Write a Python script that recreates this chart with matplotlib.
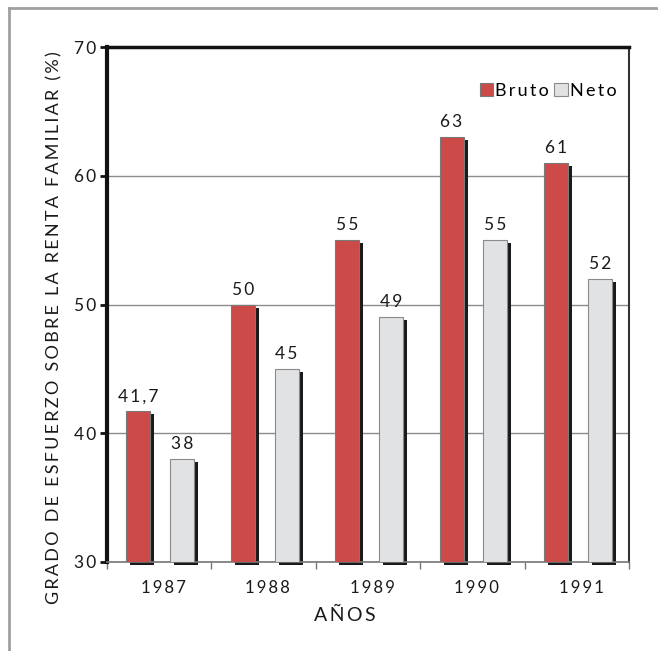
import matplotlib
matplotlib.use("Agg")
import matplotlib.pyplot as plt
import matplotlib.transforms as mtransforms
from matplotlib.lines import Line2D
import numpy as np

years = ["1987", "1988", "1989", "1990", "1991"]
bruto = [41.7, 50, 55, 63, 61]
neto = [38, 45, 49, 55, 52]
bruto_labels = ["41,7", "50", "55", "63", "61"]
neto_labels = ["38", "45", "49", "55", "52"]
y_ticks = [30, 40, 50, 60, 70]

plt.rcParams["font.family"] = ["Lato", "DejaVu Sans"]

RED = "#cc4a47"
GREY = "#e1e2e4"
SHADOW = "#1a1a1c"
INK = "#1a1a1a"


def spaced(s):
    """Open up the tracking of a string with thin spaces."""
    return "\u2009".join(s)


fig = plt.figure(figsize=(6.58, 6.51), dpi=100)
W, H = 658, 651
ax = fig.add_axes([107 / W, 1 - 562 / H, (629 - 107) / W, (562 - 47) / H])

x = np.arange(len(years))
w = 0.23
xb = x + 0.30
xn = x + 0.72

# drop shadows: same bars shifted a few pixels right and down
shadow_tr = mtransforms.offset_copy(ax.transData, fig=fig, x=4, y=-3, units="dots")
for xs, vals in ((xb, bruto), (xn, neto)):
    ax.bar(xs, np.array(vals) - 30, width=w, bottom=30, color=SHADOW,
           edgecolor="none", transform=shadow_tr, clip_on=False, zorder=2)

ax.bar(xb, np.array(bruto) - 30, width=w, bottom=30, color=RED,
       edgecolor="#7a7a7a", linewidth=0.8, zorder=3, label=spaced("Bruto"))
ax.bar(xn, np.array(neto) - 30, width=w, bottom=30, color=GREY,
       edgecolor="#8a8a8a", linewidth=0.8, zorder=3, label=spaced("Neto"))

for xs, vals, labs in ((xb, bruto, bruto_labels), (xn, neto, neto_labels)):
    for xi, v, lab in zip(xs, vals, labs):
        ax.annotate(spaced(lab), (xi, v), xytext=(0, 5), textcoords="offset points",
                    ha="center", va="bottom", fontsize=12.5, color=INK)

ax.set_xlim(0, len(years))
ax.set_ylim(30, 70)
ax.set_yticks(y_ticks)
ax.set_yticklabels([spaced(str(t)) for t in y_ticks], fontsize=12.5)
ax.yaxis.grid(True, color="#8c8c8c", linewidth=1.0, zorder=0)
ax.set_axisbelow(True)
ax.tick_params(axis="y", direction="out", length=5, width=2, color="#111111",
               pad=3, labelcolor=INK)

ax.set_xticks(np.arange(len(years) + 1))
ax.set_xticklabels([])
ax.set_xticks(x + 0.54, minor=True)
ax.set_xticklabels([spaced(y) for y in years], minor=True, fontsize=12)
ax.tick_params(axis="x", which="major", direction="out", length=5, width=1,
               color="#777777")
ax.tick_params(axis="x", which="minor", length=0, pad=13, labelcolor=INK)

ax.spines["left"].set_linewidth(3)
ax.spines["left"].set_color("#111111")
ax.spines["top"].set_linewidth(2.5)
ax.spines["top"].set_color("#111111")
ax.spines["right"].set_linewidth(1.5)
ax.spines["right"].set_color("#333333")
ax.spines["bottom"].set_linewidth(1.2)
ax.spines["bottom"].set_color("#777777")

# axis titles placed in figure pixels
fig.text(345 / W, 1 - 615 / H, spaced("AÑOS"), fontsize=14, color=INK,
         ha="center", va="center")
ylabel = "GRADO DE ESFUERZO SOBRE LA RENTA FAMILIAR (%)"
fig.text(54 / W, 1 - 328 / H, spaced(ylabel), fontsize=13, color=INK,
         rotation=90, ha="center", va="center")

ax.legend(loc="upper right", bbox_to_anchor=(1.0, 0.955), ncol=2, frameon=False,
          handlelength=0.75, handleheight=0.75, handletextpad=0.1,
          columnspacing=0.3, fontsize=13, borderaxespad=0.3)

# page frame on the left and top
fig.add_artist(Line2D([9 / W, 9 / W], [0, 1 - 8 / H], color="#a0a0a0",
                      linewidth=2, transform=fig.transFigure))
fig.add_artist(Line2D([9 / W, 1], [1 - 8 / H, 1 - 8 / H], color="#a0a0a0",
                      linewidth=2, transform=fig.transFigure))

fig.savefig("out.png", dpi=100)
